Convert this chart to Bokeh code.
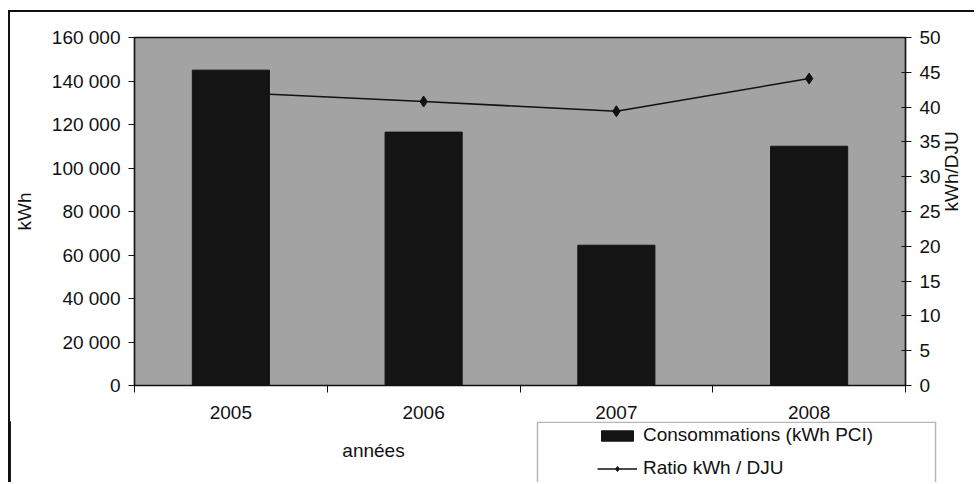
import math
from bokeh.plotting import figure
from bokeh.layouts import column
from bokeh.models import (Range1d, LinearAxis, FixedTicker, Legend, LegendItem,
                          Label, BoxAnnotation)
from bokeh.embed import file_html
from bokeh.resources import INLINE

# Données
annees = ["2005", "2006", "2007", "2008"]
consommations = [145000, 116500, 64500, 110000]      # kWh PCI
ratio_dju = [42.1, 40.8, 39.4, 44.1]                 # kWh / DJU
kwh_ticks = [0, 20000, 40000, 60000, 80000, 100000, 120000, 140000, 160000]
kwh_labels = ["0", "20 000", "40 000", "60 000", "80 000", "100 000",
              "120 000", "140 000", "160 000"]
ratio_ticks = [0, 5, 10, 15, 20, 25, 30, 35, 40, 45, 50]

FONT = "Liberation Sans"
FS = "19px"
INK = "#111111"
BAR = "#141414"
W = 966
CADRE = "2px solid #111111"

xs = list(range(1, len(annees) + 1))

# ---------------- graphique principal ----------------
p = figure(width=W, height=411, output_backend="svg", toolbar_location=None,
           x_range=Range1d(0.5, 4.5), y_range=Range1d(0, 160000),
           min_border_left=121, min_border_right=71, min_border_top=25,
           min_border_bottom=38, x_axis_type=None, y_axis_type=None)
p.extra_y_ranges = {"ratio": Range1d(0, 50)}
p.styles = {"border-left": CADRE, "border-top": CADRE}

p.background_fill_color = "#a3a3a3"
p.border_fill_color = "white"
p.outline_line_color = INK
p.outline_line_width = 1.5
p.xgrid.visible = False
p.ygrid.visible = False


def series(fig, **ranges):
    """Courbe du ratio puis barres de consommation, dans cet ordre."""
    ln = fig.line(xs, ratio_dju, y_range_name="ratio", line_color=INK, line_width=1.6,
                  **ranges)
    pt = fig.scatter(xs, ratio_dju, y_range_name="ratio", marker="diamond", size=11,
                     fill_color=INK, line_color=INK, **ranges)
    br = fig.vbar(x=xs, top=consommations, width=0.4, fill_color=BAR, line_color=BAR,
                  **ranges)
    return ln, pt, br


series(p)

# Axe des abscisses : graduations entre les catégories
xaxis = LinearAxis(ticker=FixedTicker(ticks=xs, minor_ticks=[0.5, 1.5, 2.5, 3.5, 4.5]),
                   major_label_overrides={x: a for x, a in zip(xs, annees)})
xaxis.major_tick_out = 0
xaxis.major_tick_in = 0
xaxis.minor_tick_out = 7
xaxis.minor_tick_in = 0
xaxis.major_label_standoff = 13
p.add_layout(xaxis, "below")

# Axe kWh
yaxis = LinearAxis(ticker=FixedTicker(ticks=kwh_ticks, minor_ticks=[]),
                   major_label_overrides={t: l for t, l in zip(kwh_ticks, kwh_labels)},
                   axis_label="kWh")
yaxis.major_tick_out = 6
yaxis.major_tick_in = 0
yaxis.major_label_standoff = 8
yaxis.axis_label_standoff = 14
p.add_layout(yaxis, "left")

# Axe kWh/DJU
raxis = LinearAxis(y_range_name="ratio", ticker=FixedTicker(ticks=ratio_ticks, minor_ticks=[]),
                   axis_label="kWh/DJU")
raxis.major_tick_out = 6
raxis.major_tick_in = 4
raxis.major_label_standoff = 8
raxis.axis_label_standoff = 8
raxis.axis_label_orientation = math.pi / 2
p.add_layout(raxis, "right")

for ax in (xaxis, yaxis, raxis):
    ax.axis_line_color = INK
    ax.axis_line_width = 1.2
    ax.major_tick_line_color = INK
    ax.minor_tick_line_color = INK
    ax.major_label_text_font = FONT
    ax.major_label_text_font_size = FS
    ax.major_label_text_color = INK
    ax.axis_label_text_font = FONT
    ax.axis_label_text_font_size = FS
    ax.axis_label_text_font_style = "normal"
    ax.axis_label_text_color = INK

# ---------------- bandeau inférieur : titre des abscisses et légende ----------------
H2 = 61
bas = figure(width=W, height=H2, output_backend="svg", toolbar_location=None,
             x_range=Range1d(0, W), y_range=Range1d(H2, 0),
             min_border=0, x_axis_type=None, y_axis_type=None)
if "frame_align" in bas.properties():
    bas.frame_align = False
bas.styles = {"border-left": CADRE}
bas.background_fill_color = "white"
bas.border_fill_color = "white"
bas.outline_line_color = None
bas.xgrid.visible = False
bas.ygrid.visible = False

bas.add_layout(Label(x=363, y=29, text="années", text_font=FONT, text_font_size=FS,
                     text_color=INK, text_align="center", text_baseline="middle"))

# cadre de la légende
bas.add_layout(BoxAnnotation(left=527, right=925, top=0.8, bottom=H2 + 20,
                             fill_color="white", fill_alpha=1.0,
                             line_color=INK, line_width=1.5))

# les séries sont reprises ici hors du champ visible, pour les symboles de la légende
bas.extra_x_ranges = {"hors_champ": Range1d(100, 200)}
bas.extra_y_ranges = {"ratio": Range1d(0, 50)}
leg_line, leg_pts, leg_bar = series(bas, x_range_name="hors_champ")

legend = Legend(items=[LegendItem(label="Consommations (kWh PCI)", renderers=[leg_bar]),
                       LegendItem(label="Ratio kWh / DJU", renderers=[leg_line, leg_pts])],
                location=(587, 3), orientation="vertical")
legend.glyph_width = 40
legend.glyph_height = 13
legend.label_height = 22
legend.label_standoff = 6
legend.spacing = 11
legend.padding = 0
legend.margin = 0
legend.border_line_alpha = 0
legend.background_fill_alpha = 0
legend.label_text_font = FONT
legend.label_text_font_size = FS
legend.label_text_color = INK
bas.add_layout(legend, "center")

page = column(p, bas, spacing=0)
page.styles = {"margin-left": "8px", "margin-top": "10px"}

open("out.html", "w").write(file_html(page, INLINE))
